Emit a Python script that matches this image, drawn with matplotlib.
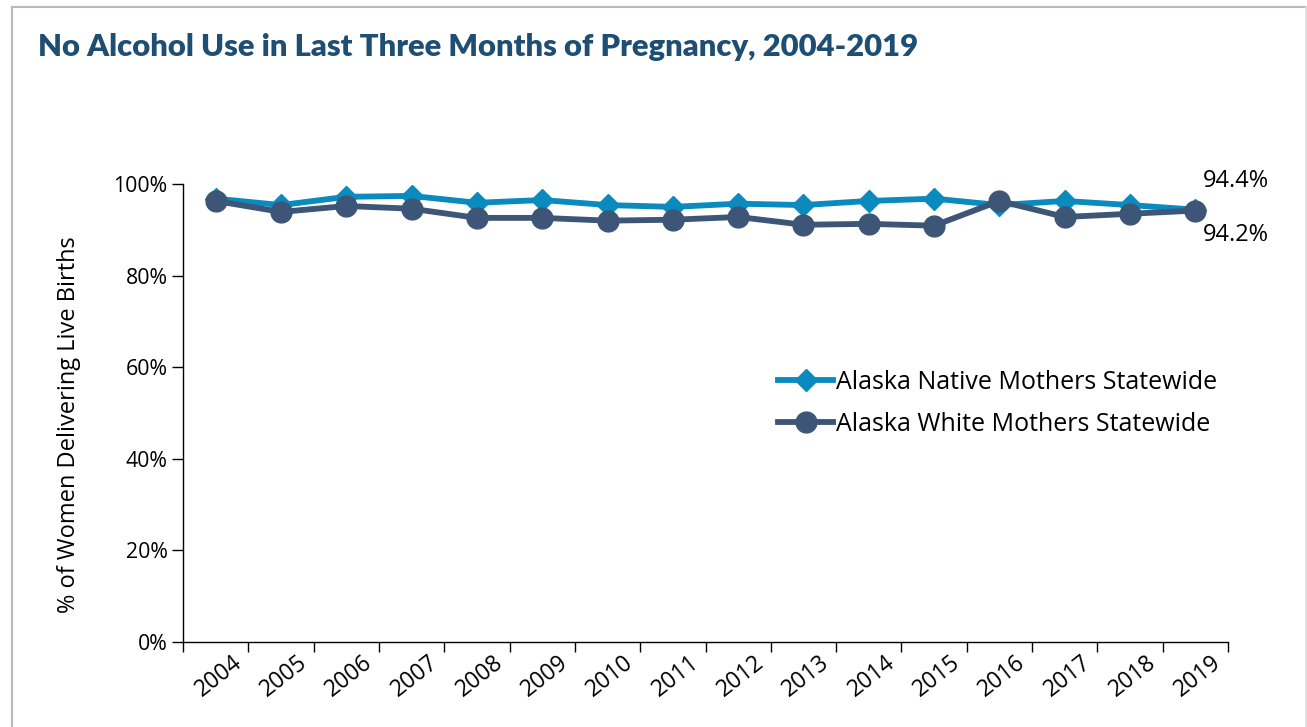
import matplotlib
matplotlib.use("Agg")
import matplotlib.pyplot as plt
from matplotlib.lines import Line2D
import matplotlib.transforms as mtransforms
from matplotlib.ticker import FixedLocator, PercentFormatter

years = ["2004", "2005", "2006", "2007", "2008", "2009", "2010", "2011",
         "2012", "2013", "2014", "2015", "2016", "2017", "2018", "2019"]
native = [96.8, 95.4, 97.2, 97.4, 95.9, 96.5, 95.4, 95.0,
          95.7, 95.4, 96.3, 96.8, 95.4, 96.3, 95.4, 94.4]
white = [96.3, 93.9, 95.2, 94.6, 92.6, 92.6, 92.0, 92.2,
         92.8, 91.1, 91.3, 90.9, 96.3, 92.8, 93.5, 94.2]
native_label = "Alaska Native Mothers Statewide"
white_label = "Alaska White Mothers Statewide"
title = "No Alcohol Use in Last Three Months of Pregnancy, 2004-2019"
ylabel = "% of Women Delivering Live Births"

W, H = 1307, 727
fig = plt.figure(figsize=(W / 100, H / 100), dpi=100)
fig.patch.set_facecolor("white")

# outer border
fig.add_artist(Line2D([12.5 / W, 12.5 / W], [0, 1 - 6.5 / H], color="#B8B8B8", lw=1.5, transform=fig.transFigure))
fig.add_artist(Line2D([12.5 / W, 1306 / W], [1 - 6.5 / H, 1 - 6.5 / H], color="#B8B8B8", lw=1.5, transform=fig.transFigure))
fig.add_artist(Line2D([1305.5 / W, 1305.5 / W], [0, 1 - 6.5 / H], color="#DDDDDD", lw=1.2, transform=fig.transFigure))

left, right, top, bottom = 183, 1228, 184, 642
ax = fig.add_axes([left / W, 1 - bottom / H, (right - left) / W, (bottom - top) / H])

x = list(range(len(years)))
c_native = "#0A8ABD"
c_white = "#3D5677"
ax.plot(x, native, color=c_native, lw=4.2, marker="D", markersize=11, zorder=3, label=native_label)
ax.plot(x, white, color=c_white, lw=4.2, marker="o", markersize=15, zorder=4, label=white_label)

ax.set_xlim(-0.5, len(years) - 0.5)
ax.set_ylim(0, 100)
ax.yaxis.set_major_locator(FixedLocator([0, 20, 40, 60, 80, 100]))
ax.yaxis.set_major_formatter(PercentFormatter(decimals=0))

for s in ["top", "right"]:
    ax.spines[s].set_visible(False)
for s in ["left", "bottom"]:
    ax.spines[s].set_color("#000000")
    ax.spines[s].set_linewidth(1.0)

tickfont = "Open Sans"
ax.tick_params(axis="y", direction="out", length=8, width=1, labelsize=15.3, pad=3)
for lab in ax.get_yticklabels():
    lab.set_fontfamily(tickfont)

ax.set_xticks(x)
ax.set_xticklabels(years, fontfamily=tickfont, fontsize=16.5, rotation=38, ha="right", rotation_mode="anchor")
ax.set_xticks([i - 0.5 for i in range(len(years) + 1)], minor=True)
ax.tick_params(axis="x", which="major", length=0, pad=6)
ax.tick_params(axis="x", which="minor", direction="out", length=7, width=1)
offset = mtransforms.ScaledTranslation(16 / 100, 0, fig.dpi_scale_trans)
for lab in ax.get_xticklabels():
    lab.set_transform(lab.get_transform() + offset)

ax.set_ylabel(ylabel, fontfamily=tickfont, fontsize=17)
ax.yaxis.set_label_coords((81 - left) / (right - left), (bottom - 425) / (bottom - top))

# end labels
ax.annotate(f"{native[-1]:.1f}%", (x[-1], native[-1]), xytext=(8, 17), textcoords="offset pixels",
            fontfamily=tickfont, fontsize=17, ha="left", va="bottom", annotation_clip=False)
ax.annotate(f"{white[-1]:.1f}%", (x[-1], white[-1]), xytext=(8, -12), textcoords="offset pixels",
            fontfamily=tickfont, fontsize=17, ha="left", va="top", annotation_clip=False)

leg = ax.legend(loc="upper left", bbox_to_anchor=((778 - left) / (right - left), 1 - (370 - top) / (bottom - top)),
                frameon=False, prop={"family": tickfont, "size": 18}, handlelength=2.2,
                handletextpad=0.1, labelspacing=0.68, borderaxespad=0, borderpad=0)

fig.text(38 / W, 1 - 47 / H, title, fontfamily="Lato", fontweight="heavy", fontsize=22.3,
         color="#1F4E74", ha="left", va="center")

fig.savefig("out.png", dpi=100)
